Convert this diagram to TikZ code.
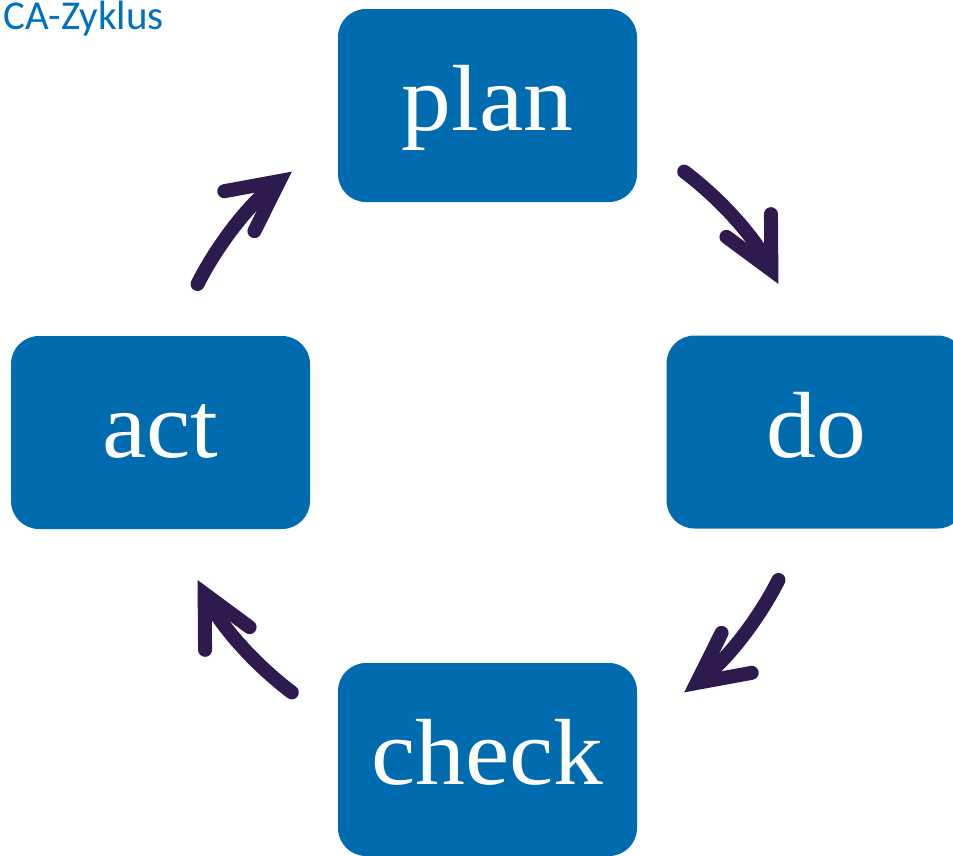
\documentclass[tikz,border=0pt]{standalone}
\usepackage{fontspec}
\setmainfont[FakeStretch=1.06]{Liberation Serif}
\newfontfamily\titlefont{Carlito}
\usetikzlibrary{arrows.meta,calc}
\definecolor{boxblue}{RGB}{0,107,174}
\definecolor{titleblue}{RGB}{0,112,192}
\definecolor{arrowpurple}{RGB}{46,26,78}
\begin{document}
\begin{tikzpicture}[x=1pt,y=-1pt,
  stage/.style={rectangle, rounded corners=28pt, fill=boxblue, text=white,
    minimum width=299pt, minimum height=193pt, inner sep=0pt,
    text height=70pt, text depth=20pt, font=\fontsize{94}{100}\selectfont},
  cycle arrow/.style={draw=arrowpurple, line width=14pt, line cap=round,
    -{Straight Barb[length=50pt, width=50pt, line cap=round, line join=miter]}}]
\useasboundingbox (0,0) rectangle (953,855);
\clip (0,0) rectangle (953,855);

% heading
\node[anchor=base east, inner sep=0pt, text=titleblue,
  font=\titlefont\fontsize{41}{45}\selectfont] (title) at (164,29) {CA-Zyklus};

% the four stages
\node[stage] (plan)  at (487.5,105.5) {plan};
\node[stage] (do)    at (816,432)     {do};
\node[stage] (check) at (487.5,759.5) {check};
\node[stage] (act)   at (160.5,432.5) {act};

% circular arrows between the stages
\coordinate (hub) at (488,432);
\draw[cycle arrow] ($(hub)+(-53:326)$) arc[start angle=-53, end angle=-27, radius=326];
\draw[cycle arrow] ($(hub)+(27:326)$)  arc[start angle=27,  end angle=53,  radius=326];
\draw[cycle arrow] ($(hub)+(127:326)$) arc[start angle=127, end angle=153, radius=326];
\draw[cycle arrow] ($(hub)+(207:326)$) arc[start angle=207, end angle=233, radius=326];
\end{tikzpicture}
\end{document}
